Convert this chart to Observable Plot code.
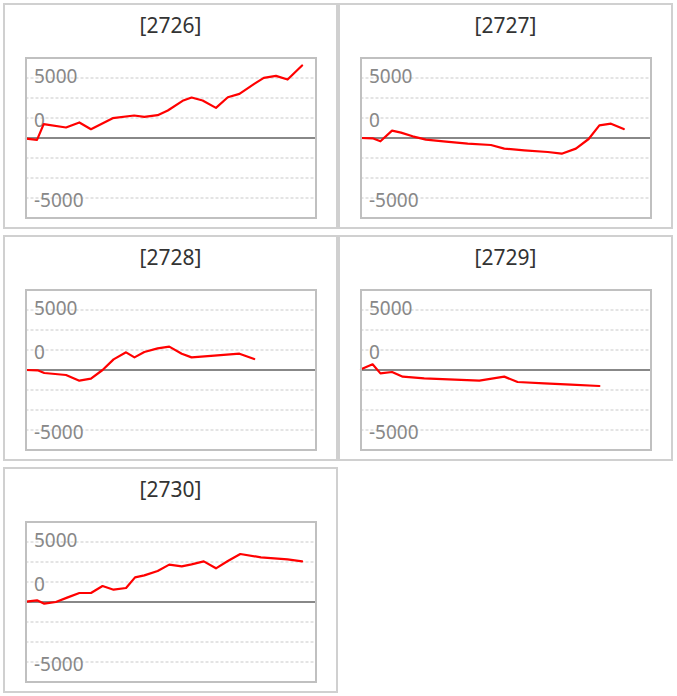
<!DOCTYPE html>
<html>
<head>
<meta charset="utf-8">
<script src="https://cdn.jsdelivr.net/npm/d3@7"></script>
<script src="https://cdn.jsdelivr.net/npm/@observablehq/plot@0.6"></script>
<style>
  html, body { margin: 0; padding: 0; background: #fff; }
  body { font-family: "Noto Sans", sans-serif; }
  #grid {
    position: absolute; left: 3px; top: 3px;
    display: grid;
    grid-template-columns: 335px 335px;
    row-gap: 6px;
  }
  .panel {
    box-sizing: border-box;
    width: 335px; height: 226px;
    border: 2px solid #d0d0d0;
    background: #fff;
  }
  .title {
    height: 40px; line-height: 40px;
    font-size: 21px; color: #333;
    text-align: center;
  }
  .panel svg { display: block; }
</style>
</head>
<body>
<div id="grid"></div>
<script>
// ---- data (x: day index on a 0–100 axis, y: value) ----
const panelIds = ["2726", "2727", "2728", "2729", "2730"];

const x2726 = [0, 3.8, 6.1, 13.8, 18.4, 22.4, 29.9, 37.3, 40.8, 45.4, 48.9, 54.0, 57.1, 60.9, 65.5, 69.6, 73.6, 78.7, 82.0, 86.2, 90.2, 95.2];
const y2726 = [-80, -230, 1730, 1310, 1940, 1100, 2480, 2810, 2650, 2850, 3440, 4650, 5060, 4690, 3770, 5100, 5520, 6770, 7520, 7770, 7310, 9060];

const x2727 = [0, 4.0, 6.7, 10.7, 13.8, 17.8, 22.4, 29.3, 36.8, 44.8, 49.4, 56.3, 64.4, 69.2, 74.1, 78.5, 82.2, 86.2, 90.6];
const y2727 = [0, -40, -410, 920, 670, 210, -210, -460, -710, -875, -1330, -1540, -1750, -1960, -1330, -125, 1580, 1790, 1125];

const x2728 = [0, 4.0, 6.3, 13.8, 18.4, 22.4, 26.4, 30.2, 34.5, 37.4, 40.8, 45.4, 49.4, 53.7, 57.1, 64.9, 73.6, 78.7];
const y2728 = [0, -40, -375, -625, -1330, -1080, 0, 1330, 2210, 1580, 2250, 2710, 2920, 2040, 1580, 1790, 2040, 1375];

const x2729 = [0, 4.0, 6.7, 10.7, 14.4, 21.8, 40.8, 49.4, 54.0, 63.2, 72.4, 82.2];
const y2729 = [100, 710, -420, -250, -830, -1040, -1330, -830, -1500, -1670, -1830, -2000];

const x2730 = [0, 3.8, 6.3, 10.3, 14.4, 18.4, 22.4, 26.4, 30.2, 34.5, 37.6, 40.8, 45.4, 49.4, 53.7, 57.1, 61.3, 65.5, 69.6, 73.9, 81.0, 85.6, 90.2, 95.2];
const y2730 = [40, 210, -210, 0, 580, 1125, 1125, 2000, 1540, 1750, 3080, 3330, 3875, 4670, 4460, 4710, 5080, 4210, 5125, 6000, 5580, 5460, 5330, 5080];

const gridTicks = [-7500, -5000, -2500, 2500, 5000, 7500];
const labelTicks = [5000, 0, -5000];
const labelTexts = ["5000", "0", "-5000"];
const xDomain = [0, 100];
const yDomain = [-10000, 10000];

const seriesX = [x2726, x2727, x2728, x2729, x2730];
const seriesY = [y2726, y2727, y2728, y2729, y2730];

// label vertical offsets (styling to match the reference placement)
const labelDy = [-21, -17.5, 22.5];

const grid = document.getElementById("grid");
panelIds.forEach((id, k) => {
  const data = seriesX[k].map((x, i) => ({x, y: seriesY[k][i]}));
  const panel = document.createElement("div");
  panel.className = "panel";
  const title = document.createElement("div");
  title.className = "title";
  title.textContent = "[" + id + "]";
  panel.appendChild(title);

  const labelMarks = labelTicks.map((t, i) =>
    Plot.text([t], {
      y: d => d,
      text: () => labelTexts[i],
      frameAnchor: "left",
      textAnchor: "start",
      dx: 8,
      dy: labelDy[i],
      fill: "#888",
      fontSize: 19
    })
  );

  const chart = Plot.plot({
    width: 331,
    height: 182,
    marginTop: 12.5,
    marginBottom: 9.5,
    marginLeft: 20.5,
    marginRight: 20.5,
    x: {domain: xDomain, axis: null},
    y: {domain: yDomain, axis: null},
    style: {fontFamily: "'Noto Sans', sans-serif", background: "white", overflow: "visible"},
    marks: [
      Plot.ruleY(gridTicks, {stroke: "#dcdcdc", strokeWidth: 1.5, strokeDasharray: "3,2"}),
      Plot.ruleY([0], {stroke: "#888", strokeWidth: 2}),
      ...labelMarks,
      Plot.line(data, {x: "x", y: "y", stroke: "#ff0000", strokeWidth: 2.2}),
      Plot.frame({stroke: "#c0c0c0", strokeWidth: 2})
    ]
  });
  panel.appendChild(chart);
  grid.appendChild(panel);
});
</script>
</body>
</html>
